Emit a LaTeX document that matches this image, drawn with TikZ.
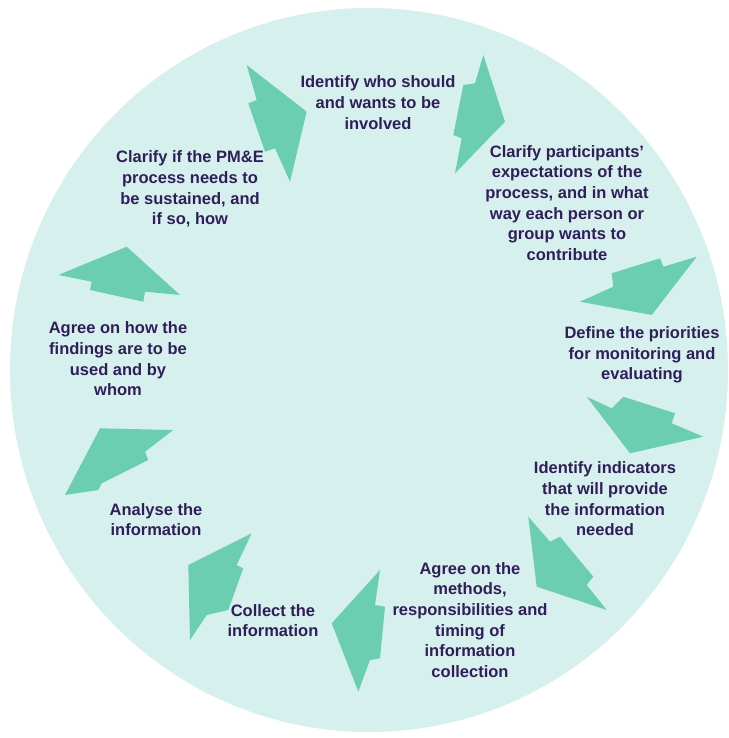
\documentclass[tikz,border=0pt]{standalone}
\usepackage{fontspec}
\setmainfont{Liberation Sans}
\usepackage{xcolor}
\definecolor{discaqua}{RGB}{214,240,238}
\definecolor{boltgreen}{RGB}{108,206,176}
\definecolor{stepink}{RGB}{48,30,88}
\tikzset{
  steptext/.style={align=center, inner sep=0pt, text=stepink,
    font=\fontsize{16.5}{20.7}\selectfont\bfseries},
  bolt/.style={fill=boltgreen, draw=none}
}

\begin{document}
\begin{tikzpicture}[x=1pt,y=-1pt]

% ── Canvas and disc ──────────────────────────────────────────────────────────
% picture in pixel units, y grows downwards
\useasboundingbox (0,0) rectangle (728,738);
\fill[white] (0,0) rectangle (728,738);
\pgfmathsetmacro{\cx}{369}   % centre x
\pgfmathsetmacro{\cy}{370}   % centre y
\fill[discaqua] (\cx,\cy) ellipse [x radius=359, y radius=362];

% ════════════════════════════════════════════════════════════════════════════
% STEP TEXTS (clockwise from the top)
% ════════════════════════════════════════════════════════════════════════════
\node[steptext] (who) at (378,102.5) {Identify who should\\and wants to be\\involved};
\node[steptext] (expect) at (567,203) {Clarify participants'\\expectations of the\\process, and in what\\way each person or\\group wants to\\contribute};
\node[steptext] (prior) at (642,355) {Define the priorities\\for monitoring and\\evaluating};
\node[steptext] (indic) at (605,499) {Identify indicators\\that will provide\\the information\\needed};
\node[steptext] (method) at (470,620) {Agree on the\\methods,\\responsibilities and\\timing of\\information\\collection};
\node[steptext] (collect) at (273,620.5) {Collect the\\information};
\node[steptext] (analyse) at (156,519.5) {Analyse the\\information};
\node[steptext] (findings) at (118,359) {Agree on how the\\findings are to be\\used and by\\whom};
\node[steptext] (sustain) at (190,189) {Clarify if the PM\&E\\process needs to\\be sustained, and\\if so, how};

% ════════════════════════════════════════════════════════════════════════════
% BOLT ARROWS between the steps
% ════════════════════════════════════════════════════════════════════════════
% top left
\fill[bolt] (246.7,65) -- (306.7,111.7) -- (290,181.7) -- (275,148.3)
  -- (265,151.7) -- (248.3,103.3) -- (256.7,100) -- cycle;
% top right
\fill[bolt] (483.3,55) -- (505,121.7) -- (455,173.3) -- (461.7,138.3)
  -- (453.3,135) -- (463.3,85) -- (475,83.3) -- cycle;
% right, upper
\fill[bolt] (696.7,256.7) -- (651.7,315) -- (580,301.7) -- (613.3,286.7)
  -- (611.7,273.3) -- (660,258.3) -- (663.3,266.7) -- cycle;
% right, lower
\fill[bolt] (586.7,396.7) -- (611.7,408.3) -- (623.3,396.7) -- (675,413.3)
  -- (671.7,423.3) -- (703.3,436.7) -- (630,453.3) -- cycle;
% lower right
\fill[bolt] (528.3,516.7) -- (550,541.7) -- (560,536.7) -- (593.3,576.7)
  -- (586.7,585) -- (606.7,610) -- (536.7,586.7) -- cycle;
% bottom
\fill[bolt] (380,570) -- (375,605) -- (385,606.7) -- (380,658.3)
  -- (370,660) -- (358.3,691.7) -- (331.7,623.3) -- cycle;
% lower left
\fill[bolt] (251.7,533.3) -- (236.7,565) -- (243.3,568.3) -- (228.3,610)
  -- (206.7,615) -- (190,640) -- (188.3,565) -- cycle;
% left, lower
\fill[bolt] (100,428.3) -- (173.3,430) -- (145,451.7) -- (148.3,460)
  -- (101.7,483.3) -- (98.3,490) -- (65,495) -- cycle;
% left, upper
\fill[bolt] (58.3,275) -- (126.7,246.7) -- (180,295) -- (145,291.7)
  -- (143.3,301.7) -- (90,290) -- (91.7,281.7) -- cycle;

\end{tikzpicture}
\end{document}
